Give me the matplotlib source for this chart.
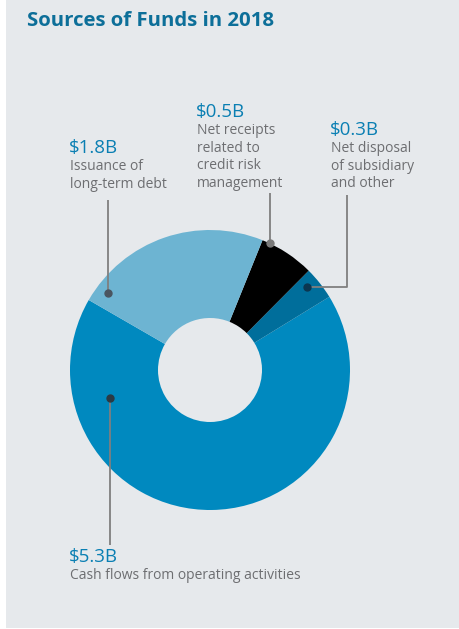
import matplotlib
matplotlib.use("Agg")
import matplotlib.pyplot as plt
from matplotlib.patches import Rectangle

plt.rcParams['font.family'] = ['Open Sans', 'DejaVu Sans']

W, H = 460, 629
title = "Sources of Funds in 2018"
categories = ["Cash flows from operating activities",
              "Net disposal\nof subsidiary\nand other",
              "Net receipts\nrelated to\ncredit risk\nmanagement",
              "Issuance of\nlong-term debt"]
values = [5.3, 0.3, 0.5, 1.8]
value_labels = ["$5.3B", "$0.3B", "$0.5B", "$1.8B"]
colors = ["#0089bf", "#006e9b", "#000000", "#6db4d2"]

BG = "#e6e9ec"
VAL_C = "#0a7fb3"
TXT_C = "#6d6e71"
LINE_C = "#7f7f7f"

fig = plt.figure(figsize=(W / 100, H / 100), dpi=100)
fig.patch.set_facecolor("white")
ax = fig.add_axes([0, 0, 1, 1])

def Y(y):
    return H - y

ax.add_patch(Rectangle((6, Y(628)), W - 6, 628, facecolor=BG, edgecolor="none", zorder=0))

cx, cy, R, r = 210, 370, 140, 52
ax.pie(values, colors=colors, startangle=150, counterclock=True,
       center=(cx, Y(cy)), radius=R,
       wedgeprops=dict(width=R - r, linewidth=0), frame=True)

ax.set_xlim(0, W)
ax.set_ylim(0, H)
ax.set_aspect("equal")
ax.axis("off")

ax.text(27, Y(21), title, fontsize=14.7, fontweight="bold", color="#0d6f99",
        ha="left", va="center")

# leader lines (pixel paths) and dots
lines = [
    ([(110, 398), (110, 545)], "#2b3a44"),  # big slice
    ([(108, 293), (108, 200)], "#4a5560"),  # light blue
    ([(270, 243), (270, 193)], "#7a7a7a"),  # black
    ([(307, 287), (347, 287), (347, 195)], "#0c3650"),  # dark blue
]
for pts, dc in lines:
    xs = [p[0] for p in pts]
    ys = [Y(p[1]) for p in pts]
    ax.plot(xs, ys, color=LINE_C, lw=1.3, zorder=5, solid_capstyle="butt")
    ax.plot(xs[0], ys[0], "o", ms=5, color=dc, zorder=6)

# labels: (x, y of value text center)
label_pos = [(70, 557), (331, 130), (197, 112), (70, 148)]
for (x, y), vl, cat in zip(label_pos, value_labels, categories):
    ax.text(x - 1, Y(y), vl, fontsize=13.5, color=VAL_C, ha="left", va="center")
    ax.text(x, Y(y + 11), cat, fontsize=10, color=TXT_C, ha="left", va="top",
            linespacing=1.25)

fig.savefig("out.png", dpi=100, facecolor="white")
